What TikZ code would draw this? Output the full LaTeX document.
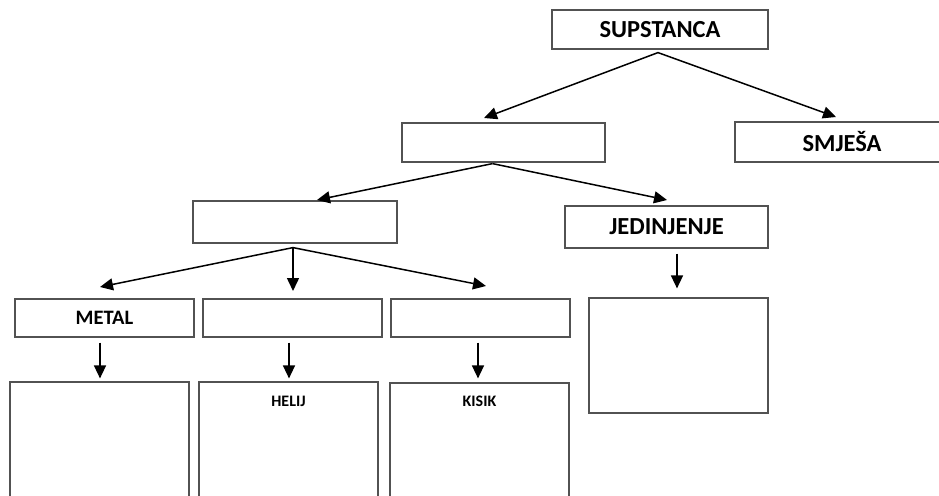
\documentclass[tikz,border=0pt]{standalone}
\usepackage{fontspec}
\setmainfont{Carlito}
\usetikzlibrary{arrows.meta,calc}

\tikzset{
  box/.style={draw=black!68, line width=1.2pt, rectangle, inner sep=0pt,
              font=\bfseries\fontsize{24.5}{28}\selectfont},
  smallbox/.style={box, font=\bfseries\fontsize{20.5}{24}\selectfont},
  tinylbl/.style={inner sep=0pt, font=\bfseries\fontsize{16}{19}\selectfont},
  arr/.style={draw=black, line width=1.5pt,
              -{Triangle[length=13pt,width=12pt]}},
}

\begin{document}
\begin{tikzpicture}[x=1pt, y=-1pt]
  \useasboundingbox (0,0) rectangle (939,495);
  \clip (0,0) rectangle (939,495);

  % top level
  \node[box, minimum width=216pt, minimum height=39pt] (sup) at (660,29.5) {SUPSTANCA};
  \node[box, minimum width=214pt, minimum height=40pt] (mix) at (842,142) {SMJEŠA};
  \node[box, minimum width=203pt, minimum height=39pt] (mid) at (503.5,142.5) {};

  % second level
  \node[box, minimum width=204pt, minimum height=42pt] (elem) at (295,222) {};
  \node[box, minimum width=203pt, minimum height=42pt] (jed) at (666.5,227) {JEDINJENJE};
  \node[box, minimum width=179pt, minimum height=115pt] (jedbox) at (678.5,355.5) {};

  % third level
  \node[smallbox, minimum width=179pt, minimum height=38pt] (metal) at (104.5,318) {METAL};
  \node[smallbox, minimum width=179pt, minimum height=38pt] (b2) at (292.5,318) {};
  \node[smallbox, minimum width=179pt, minimum height=38pt] (b3) at (480.5,318) {};

  % bottom boxes
  \node[box, minimum width=179pt, minimum height=128pt] (c1) at (99.5,446) {};
  \node[box, minimum width=179pt, minimum height=128pt] (c2) at (288.5,446) {};
  \node[box, minimum width=179pt, minimum height=127pt] (c3) at (479.5,446.5) {};
  \node[tinylbl] (helij) at ([yshift=-20pt]c2.north) {HELIJ};
  \node[tinylbl] (kisik) at ([yshift=-19pt]c3.north) {KISIK};

  % branching points and arrow targets
  \coordinate (supA) at ([shift={(-2,3)}]sup.south);
  \coordinate (midA) at ([shift={(-11,1)}]mid.south);
  \coordinate (elemA) at ([shift={(-2,4)}]elem.south);
  \coordinate (tMid) at (484,118);
  \coordinate (tMix) at (836,117);
  \coordinate (tElem) at (317,200);
  \coordinate (tJed) at (667,200);
  \coordinate (tMetal) at (100,287);
  \coordinate (tB2) at (293,291);
  \coordinate (tB3) at (486,286);

  \draw[arr] (supA) -- (tMid);
  \draw[arr] (supA) -- (tMix);
  \draw[arr] (midA) -- (tElem);
  \draw[arr] (midA) -- (tJed);
  \draw[arr] (elemA) -- (tMetal);
  \draw[arr] (elemA) -- (tB2);
  \draw[arr] (elemA) -- (tB3);

  % vertical arrows into the lower boxes
  \draw[arr] ([shift={(-4.5,5)}]metal.south) -- ([shift={(0.5,-3)}]c1.north);
  \draw[arr] ([shift={(-3.5,5)}]b2.south) -- ([shift={(0.5,-3)}]c2.north);
  \draw[arr] ([shift={(-2.5,5)}]b3.south) -- ([shift={(-1.5,-4)}]c3.north);
  \draw[arr] ([shift={(10.5,5)}]jed.south) -- ([shift={(-1.5,-9)}]jedbox.north);
\end{tikzpicture}
\end{document}
